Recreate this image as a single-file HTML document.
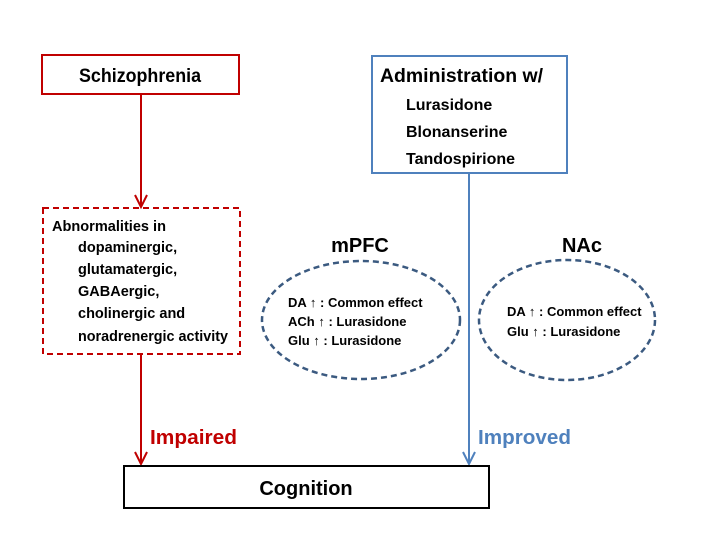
<!DOCTYPE html>
<html><head><style>
html,body{margin:0;padding:0;background:#fff}
svg text{font-family:"Liberation Sans",sans-serif;font-weight:bold}
</style></head><body>
<svg width="720" height="540" viewBox="0 0 720 540" xmlns="http://www.w3.org/2000/svg">
<rect x="42" y="55" width="197" height="39" fill="#fff" stroke="#c00000" stroke-width="2"/>
<text x="140" y="82" font-size="19" text-anchor="middle" textLength="122" lengthAdjust="spacingAndGlyphs">Schizophrenia</text>
<line x1="141" y1="94" x2="141" y2="206" stroke="#c00000" stroke-width="2"/>
<path d="M135,195 L141,207 L147,195" fill="none" stroke="#c00000" stroke-width="2"/>
<rect x="43" y="208" width="197" height="146" fill="none" stroke="#c00000" stroke-width="2" stroke-dasharray="6,4"/>
<g font-size="14.5">
<text x="52" y="231" textLength="114" lengthAdjust="spacingAndGlyphs">Abnormalities in</text>
<text x="78" y="252">dopaminergic,</text>
<text x="78" y="274">glutamatergic,</text>
<text x="78" y="296">GABAergic,</text>
<text x="78" y="318">cholinergic  and</text>
<text x="78" y="341" textLength="150" lengthAdjust="spacingAndGlyphs">noradrenergic activity</text>
</g>
<line x1="141" y1="355" x2="141" y2="464" stroke="#c00000" stroke-width="2"/>
<path d="M135,452 L141,464 L147,452" fill="none" stroke="#c00000" stroke-width="2"/>
<text x="150" y="444" font-size="20" fill="#c00000" textLength="87" lengthAdjust="spacingAndGlyphs">Impaired</text>
<rect x="372" y="56" width="195" height="117" fill="#fff" stroke="#4f81bd" stroke-width="2"/>
<text x="380" y="82" font-size="19" textLength="163" lengthAdjust="spacingAndGlyphs">Administration w/</text>
<g font-size="16">
<text x="406" y="110">Lurasidone</text>
<text x="406" y="137">Blonanserine</text>
<text x="406" y="164">Tandospirione</text>
</g>
<line x1="469" y1="173" x2="469" y2="464" stroke="#4f81bd" stroke-width="2"/>
<path d="M463,452 L469,464 L475,452" fill="none" stroke="#4f81bd" stroke-width="2"/>
<text x="478" y="444" font-size="20" fill="#4f81bd" textLength="93" lengthAdjust="spacingAndGlyphs">Improved</text>
<text x="360" y="252" font-size="20" text-anchor="middle">mPFC</text>
<text x="582" y="252" font-size="20" text-anchor="middle">NAc</text>
<ellipse cx="361" cy="320" rx="99" ry="59" fill="none" stroke="#3b5a80" stroke-width="2.5" stroke-dasharray="6,4"/>
<ellipse cx="567" cy="320" rx="88" ry="60" fill="none" stroke="#3b5a80" stroke-width="2.5" stroke-dasharray="6,4"/>
<g font-size="13">
<text x="288" y="307">DA ↑  : Common effect</text>
<text x="288" y="326">ACh ↑ : Lurasidone</text>
<text x="288" y="345">Glu ↑  : Lurasidone</text>
<text x="507" y="316">DA ↑  : Common effect</text>
<text x="507" y="336">Glu ↑  : Lurasidone</text>
</g>
<rect x="124" y="466" width="365" height="42" fill="#fff" stroke="#000" stroke-width="2"/>
<text x="306" y="495" font-size="20" text-anchor="middle">Cognition</text>
</svg>
</body></html>
